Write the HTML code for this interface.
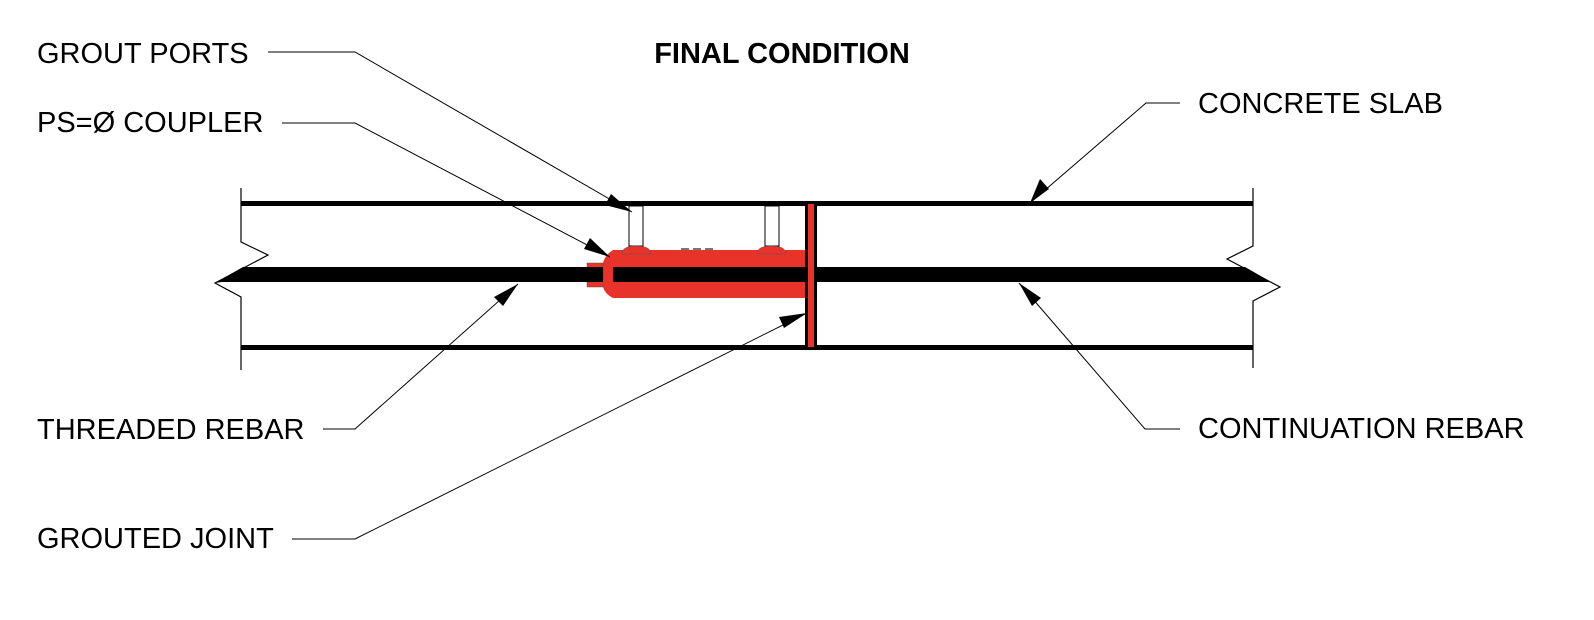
<!DOCTYPE html>
<html><head><meta charset="utf-8"><style>
html,body{margin:0;padding:0;background:#fff;}
svg{display:block;}
text{font-family:"Liberation Sans",Arial,sans-serif;font-size:29px;fill:#000;}
</style></head><body>
<svg width="1594" height="620" viewBox="0 0 1594 620" xmlns="http://www.w3.org/2000/svg">
<rect width="1594" height="620" fill="#fff"/>
<text x="782" y="63" text-anchor="middle" font-weight="bold" style="font-size:29px">FINAL CONDITION</text>
<text x="37" y="63">GROUT PORTS</text>
<text x="37" y="132">PS=Ø COUPLER</text>
<text x="37" y="439">THREADED REBAR</text>
<text x="37" y="548">GROUTED JOINT</text>
<text x="1198" y="113">CONCRETE SLAB</text>
<text x="1198" y="438">CONTINUATION REBAR</text>

<polyline points="241,188 241,242 268,255 215,283 241,297 241,370" fill="none" stroke="#000" stroke-width="1.2"/>
<polyline points="1253,188 1253,246 1227,259 1280,287 1253,301 1253,368" fill="none" stroke="#000" stroke-width="1.2"/>

<rect x="241" y="201" width="565" height="5" fill="#000"/>
<rect x="817" y="201" width="436" height="5" fill="#000"/>
<rect x="241" y="345" width="565" height="5" fill="#000"/>
<rect x="817" y="345" width="436" height="5" fill="#000"/>

<rect x="629" y="206" width="14" height="40" fill="#fff" stroke="#000" stroke-width="1"/>
<rect x="765" y="206" width="14" height="40" fill="#fff" stroke="#000" stroke-width="1"/>

<path d="M613,250 L805,250 L805,298 L613,298 Q605,294 603,287 L603,263 Q605,255 613,250 Z" fill="#e8332a"/>
<rect x="587" y="263" width="16" height="24" fill="#e8332a" stroke="#555" stroke-width="0.5"/>
<path d="M622,254 Q622,246 636,246 Q651,246 651,254 Z" fill="#e8332a" stroke="#555" stroke-width="0.5"/>
<path d="M757,254 Q757,246 771,246 Q786,246 786,254 Z" fill="#e8332a" stroke="#555" stroke-width="0.5"/>
<g fill="#777"><rect x="681" y="248" width="8" height="2"/><rect x="693" y="248" width="8" height="2"/><rect x="705" y="248" width="8" height="2"/></g>

<path d="M215,283 L243,267 L603,267 L603,282 L222,282 Z" fill="#000"/>
<path d="M613,267 L1245,267 L1280,287 L1270,282 L613,282 Z" fill="#000"/>

<rect x="805" y="201" width="12" height="149" fill="#000"/>
<rect x="808" y="204" width="6" height="143" fill="#e8332a"/>

<g fill="none" stroke="#000" stroke-width="1">
<polyline points="268,52 355,52 632,212"/>
<polyline points="282,123 355,123 610,257"/>
<polyline points="323,429 355,429 518,284"/>
<polyline points="292,539 355,539 807,313"/>
<polyline points="1180,103 1146,103 1030,203"/>
<polyline points="1180,429 1145,429 1019,283"/>
</g>
<g fill="#000">
<polygon points="632,212 605,205 611,194"/>
<polygon points="610,257 584,249 590,238"/>
<polygon points="518,284 503,306 494,297"/>
<polygon points="807,313 784,328 779,317"/>
<polygon points="1030,203 1040,179 1049,189"/>
<polygon points="1019,283 1041,298 1032,306"/>
</g>
</svg>
</body></html>
